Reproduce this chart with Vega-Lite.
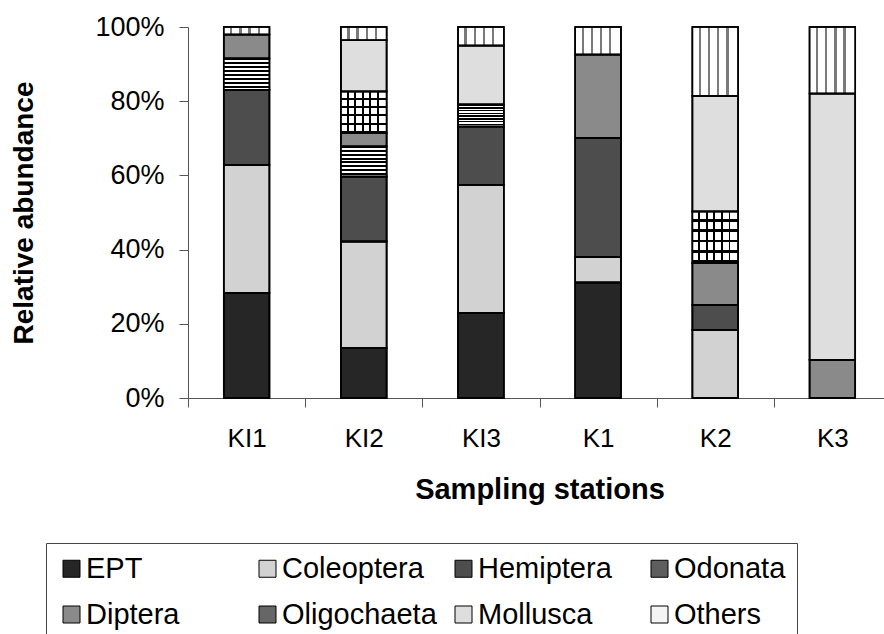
{
  "$schema": "https://vega.github.io/schema/vega-lite/v6.json",
  "width": 696,
  "height": 371,
  "autosize": {"type": "none"},
  "padding": {"left": 188, "top": 27, "right": 0, "bottom": 236},
  "background": "white",
  "config": {"view": {"stroke": null}, "font": "Liberation Sans"},
  "data": {
    "values": [
      {"station": "KI1", "taxon": "EPT", "value": 28.3},
      {"station": "KI1", "taxon": "Coleoptera", "value": 34.6},
      {"station": "KI1", "taxon": "Hemiptera", "value": 20.2},
      {"station": "KI1", "taxon": "Odonata", "value": 8.4},
      {"station": "KI1", "taxon": "Diptera", "value": 6.5},
      {"station": "KI1", "taxon": "Others", "value": 2.0},
      {"station": "KI2", "taxon": "EPT", "value": 13.4},
      {"station": "KI2", "taxon": "Coleoptera", "value": 28.8},
      {"station": "KI2", "taxon": "Hemiptera", "value": 17.5},
      {"station": "KI2", "taxon": "Odonata", "value": 8.1},
      {"station": "KI2", "taxon": "Diptera", "value": 3.6},
      {"station": "KI2", "taxon": "Oligochaeta", "value": 11.2},
      {"station": "KI2", "taxon": "Mollusca", "value": 13.8},
      {"station": "KI2", "taxon": "Others", "value": 3.6},
      {"station": "KI3", "taxon": "EPT", "value": 22.9},
      {"station": "KI3", "taxon": "Coleoptera", "value": 34.6},
      {"station": "KI3", "taxon": "Hemiptera", "value": 15.7},
      {"station": "KI3", "taxon": "Odonata", "value": 5.9},
      {"station": "KI3", "taxon": "Mollusca", "value": 15.9},
      {"station": "KI3", "taxon": "Others", "value": 5.0},
      {"station": "K1", "taxon": "EPT", "value": 31.1},
      {"station": "K1", "taxon": "Coleoptera", "value": 6.9},
      {"station": "K1", "taxon": "Hemiptera", "value": 32.1},
      {"station": "K1", "taxon": "Diptera", "value": 22.5},
      {"station": "K1", "taxon": "Others", "value": 7.4},
      {"station": "K2", "taxon": "Coleoptera", "value": 18.4},
      {"station": "K2", "taxon": "Hemiptera", "value": 6.7},
      {"station": "K2", "taxon": "Diptera", "value": 11.3},
      {"station": "K2", "taxon": "Oligochaeta", "value": 13.9},
      {"station": "K2", "taxon": "Mollusca", "value": 31.2},
      {"station": "K2", "taxon": "Others", "value": 18.5},
      {"station": "K3", "taxon": "Diptera", "value": 10.3},
      {"station": "K3", "taxon": "Mollusca", "value": 71.8},
      {"station": "K3", "taxon": "Others", "value": 17.9}
    ]
  },
  "transform": [
    {"calculate": "indexof(['EPT','Coleoptera','Hemiptera','Odonata','Diptera','Oligochaeta','Mollusca','Others'], datum.taxon)", "as": "stackRank"}
  ],
  "encoding": {
    "x": {
      "field": "station",
      "type": "nominal",
      "sort": ["KI1", "KI2", "KI3", "K1", "K2", "K3"],
      "scale": {"range": [0, 703], "paddingInner": 0, "paddingOuter": 0},
      "axis": {
        "title": "Sampling stations",
        "titleFontSize": 29,
        "titleFontWeight": "bold",
        "titleColor": "black",
        "titlePadding": 24,
        "labelFontSize": 26,
        "labelColor": "black",
        "labelAngle": 0,
        "labelPadding": 18,
        "tickBand": "extent",
        "tickSize": 9,
        "tickColor": "#555",
        "domainColor": "#555"
      }
    },
    "y": {
      "field": "value",
      "type": "quantitative",
      "stack": "normalize",
      "scale": {"domain": [0, 1]},
      "axis": {
        "title": "Relative abundance",
        "titleFontSize": 28,
        "titleFontWeight": "bold",
        "titleColor": "black",
        "titlePadding": 56,
        "format": ".0%",
        "values": [0, 0.2, 0.4, 0.6, 0.8, 1],
        "labelFontSize": 27,
        "labelColor": "black",
        "labelPadding": 15,
        "tickSize": 9,
        "tickColor": "#555",
        "domainColor": "#555",
        "grid": false
      }
    },
    "order": {"field": "stackRank", "type": "quantitative", "sort": "ascending"}
  },
  "layer": [
    {
      "mark": {"type": "bar", "stroke": "black", "strokeWidth": 1.5, "width": {"band": 0.39}},
      "encoding": {
        "color": {
          "field": "taxon",
          "type": "nominal",
          "sort": ["EPT", "Coleoptera", "Hemiptera", "Odonata", "Diptera", "Oligochaeta", "Mollusca", "Others"],
          "scale": {
            "domain": ["EPT", "Coleoptera", "Hemiptera", "Odonata", "Diptera", "Oligochaeta", "Mollusca", "Others"],
            "range": ["#262626", "#d2d2d2", "#4d4d4d", "#5e5e5e", "#8a8a8a", "#666666", "#dedede", "#f4f4f4"]
          },
          "legend": {
            "orient": "none",
            "legendX": -142,
            "legendY": 516,
            "direction": "horizontal",
            "columns": 4,
            "title": null,
            "symbolType": "square",
            "symbolSize": 289,
            "symbolStrokeColor": "black",
            "symbolStrokeWidth": 1,
            "labelFontSize": 29,
            "labelColor": "black",
            "labelOffset": 0,
            "labelLimit": 300,
            "columnPadding": 12,
            "rowPadding": 16,
            "padding": 11,
            "strokeColor": "#444",
            "gridAlign": "all"
          }
        }
      }
    },
    {
      "mark": {"type": "bar", "stroke": "black", "strokeWidth": 1.5, "width": {"band": 0.39}},
      "encoding": {
        "detail": {"field": "taxon", "type": "nominal"},
        "fill": {
          "condition": [
            {
              "test": "datum.taxon === 'Odonata'",
              "value": {
                "gradient": "linear", "x1": 0, "y1": 0, "x2": 0, "y2": 1,
                "stops": [
                  {"offset": 0, "color": "black"}, {"offset": 0.06, "color": "black"}, {"offset": 0.06, "color": "white"}, {"offset": 0.125, "color": "white"},
                  {"offset": 0.125, "color": "black"}, {"offset": 0.185, "color": "black"}, {"offset": 0.185, "color": "white"}, {"offset": 0.25, "color": "white"},
                  {"offset": 0.25, "color": "black"}, {"offset": 0.31, "color": "black"}, {"offset": 0.31, "color": "white"}, {"offset": 0.375, "color": "white"},
                  {"offset": 0.375, "color": "black"}, {"offset": 0.435, "color": "black"}, {"offset": 0.435, "color": "white"}, {"offset": 0.5, "color": "white"},
                  {"offset": 0.5, "color": "black"}, {"offset": 0.56, "color": "black"}, {"offset": 0.56, "color": "white"}, {"offset": 0.625, "color": "white"},
                  {"offset": 0.625, "color": "black"}, {"offset": 0.685, "color": "black"}, {"offset": 0.685, "color": "white"}, {"offset": 0.75, "color": "white"},
                  {"offset": 0.75, "color": "black"}, {"offset": 0.81, "color": "black"}, {"offset": 0.81, "color": "white"}, {"offset": 0.875, "color": "white"},
                  {"offset": 0.875, "color": "black"}, {"offset": 0.935, "color": "black"}, {"offset": 0.935, "color": "white"}, {"offset": 1, "color": "white"}
                ]
              }
            },
            {
              "test": "datum.taxon === 'Oligochaeta'",
              "value": {
                "gradient": "linear", "x1": 0, "y1": 0, "x2": 0, "y2": 1,
                "stops": [
                  {"offset": 0, "color": "white"}, {"offset": 0.15, "color": "white"}, {"offset": 0.15, "color": "black"}, {"offset": 0.2, "color": "black"},
                  {"offset": 0.2, "color": "white"}, {"offset": 0.35, "color": "white"}, {"offset": 0.35, "color": "black"}, {"offset": 0.4, "color": "black"},
                  {"offset": 0.4, "color": "white"}, {"offset": 0.55, "color": "white"}, {"offset": 0.55, "color": "black"}, {"offset": 0.6, "color": "black"},
                  {"offset": 0.6, "color": "white"}, {"offset": 0.75, "color": "white"}, {"offset": 0.75, "color": "black"}, {"offset": 0.8, "color": "black"},
                  {"offset": 0.8, "color": "white"}, {"offset": 0.95, "color": "white"}, {"offset": 0.95, "color": "black"}, {"offset": 1, "color": "black"}
                ]
              }
            },
            {
              "test": "datum.taxon === 'Others'",
              "value": {
                "gradient": "linear", "x1": 0, "y1": 0, "x2": 1, "y2": 0,
                "stops": [
                  {"offset": 0, "color": "white"}, {"offset": 0.14, "color": "white"}, {"offset": 0.14, "color": "#7a7a7a"}, {"offset": 0.19, "color": "#7a7a7a"},
                  {"offset": 0.19, "color": "white"}, {"offset": 0.34, "color": "white"}, {"offset": 0.34, "color": "#7a7a7a"}, {"offset": 0.39, "color": "#7a7a7a"},
                  {"offset": 0.39, "color": "white"}, {"offset": 0.54, "color": "white"}, {"offset": 0.54, "color": "#7a7a7a"}, {"offset": 0.59, "color": "#7a7a7a"},
                  {"offset": 0.59, "color": "white"}, {"offset": 0.74, "color": "white"}, {"offset": 0.74, "color": "#7a7a7a"}, {"offset": 0.79, "color": "#7a7a7a"},
                  {"offset": 0.79, "color": "white"}, {"offset": 1, "color": "white"}
                ]
              }
            }
          ],
          "value": null
        }
      }
    },
    {
      "mark": {"type": "bar", "stroke": "black", "strokeWidth": 1.5, "width": {"band": 0.39}},
      "encoding": {
        "detail": {"field": "taxon", "type": "nominal"},
        "fill": {
          "condition": {
            "test": "datum.taxon === 'Oligochaeta'",
            "value": {
              "gradient": "linear", "x1": 0, "y1": 0, "x2": 1, "y2": 0,
              "stops": [
                {"offset": 0, "color": "rgba(0,0,0,0)"}, {"offset": 0.125, "color": "rgba(0,0,0,0)"}, {"offset": 0.125, "color": "black"}, {"offset": 0.167, "color": "black"},
                {"offset": 0.167, "color": "rgba(0,0,0,0)"}, {"offset": 0.292, "color": "rgba(0,0,0,0)"}, {"offset": 0.292, "color": "black"}, {"offset": 0.333, "color": "black"},
                {"offset": 0.333, "color": "rgba(0,0,0,0)"}, {"offset": 0.458, "color": "rgba(0,0,0,0)"}, {"offset": 0.458, "color": "black"}, {"offset": 0.5, "color": "black"},
                {"offset": 0.5, "color": "rgba(0,0,0,0)"}, {"offset": 0.625, "color": "rgba(0,0,0,0)"}, {"offset": 0.625, "color": "black"}, {"offset": 0.667, "color": "black"},
                {"offset": 0.667, "color": "rgba(0,0,0,0)"}, {"offset": 0.792, "color": "rgba(0,0,0,0)"}, {"offset": 0.792, "color": "black"}, {"offset": 0.833, "color": "black"},
                {"offset": 0.833, "color": "rgba(0,0,0,0)"}, {"offset": 1, "color": "rgba(0,0,0,0)"}
              ]
            }
          },
          "value": null
        }
      }
    }
  ]
}
